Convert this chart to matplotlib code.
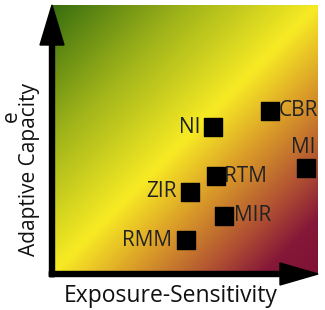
import numpy as np
import matplotlib.pyplot as plt
from matplotlib.colors import LinearSegmentedColormap

# sites: exposure-sensitivity (x) vs adaptive capacity (y), 0..1
names = ["CBR", "NI", "MI", "RTM", "ZIR", "MIR", "RMM"]
exposure = [0.820, 0.605, 0.955, 0.617, 0.519, 0.647, 0.504]
capacity = [0.606, 0.546, 0.394, 0.364, 0.305, 0.216, 0.126]

# label offsets in pixels and alignment
offsets = {"CBR": (9, 0, "left"), "NI": (-12, 0, "right"), "MI": (-3, 21, "center"),
           "RTM": (8, 0, "left"), "ZIR": (-13, 0, "right"), "MIR": (10, 0, "left"),
           "RMM": (-14, 0, "right")}

W, H = 325, 310
fig = plt.figure(figsize=(W / 100, H / 100), dpi=100)
plt.rcParams['font.family'] = ['Open Sans', 'DejaVu Sans']

left, right, top, bottom = 52, 318, 5, 274
ax = fig.add_axes([left / W, (H - bottom) / H, (right - left) / W, (bottom - top) / H])

# diagonal gradient green -> yellow -> maroon
cmap = LinearSegmentedColormap.from_list("risk", [
    (0.0, (0.22, 0.43, 0.06)),
    (0.25, (0.62, 0.70, 0.10)),
    (0.5, (0.97, 0.92, 0.14)),
    (0.65, (0.85, 0.60, 0.16)),
    (0.8, (0.68, 0.30, 0.20)),
    (0.9, (0.52, 0.09, 0.22)),
    (1.0, (0.50, 0.07, 0.21)),
])
gx, gy = np.meshgrid(np.linspace(0, 1, 300), np.linspace(1, 0, 300))
t = (gx + (1 - gy)) / 2
ax.imshow(t, cmap=cmap, extent=[0, 1, 0, 1], aspect='auto', vmin=0, vmax=1, zorder=0)

ax.set_xlim(0, 1)
ax.set_ylim(0, 1)
ax.axis('off')

# axis arrows
ax.arrow(0, -0.01, 0, 1.01, width=5 / 266, head_width=24 / 266, head_length=40 / 269,
         length_includes_head=True, color='black', clip_on=False, zorder=3)
ax.arrow(-0.01, 0, 1.01, 0, width=5 / 269, head_width=22 / 269, head_length=38 / 266,
         length_includes_head=True, color='black', clip_on=False, zorder=3)

ax.scatter(exposure, capacity, marker='s', s=150, color='black', zorder=4)
for n, x, y in zip(names, exposure, capacity):
    dx, dy, ha = offsets[n]
    ax.annotate(n, (x, y), xytext=(dx, dy), textcoords='offset pixels',
                ha=ha, va='center', fontsize=15, color='#222222', zorder=5)

fig.text(171 / W, 1 - 296 / H, "Exposure-Sensitivity", ha='center', va='center',
         fontsize=16.5, color='#111111')
fig.text(30 / W, 1 - 170 / H, "Adaptive Capacity", ha='center', va='center',
         rotation=90, fontsize=15, color='#111111')
fig.text(11 / W, 1 - 116 / H, "e", ha='center', va='center', rotation=90,
         fontsize=15, color='#111111')

fig.savefig("out.png", dpi=100)
